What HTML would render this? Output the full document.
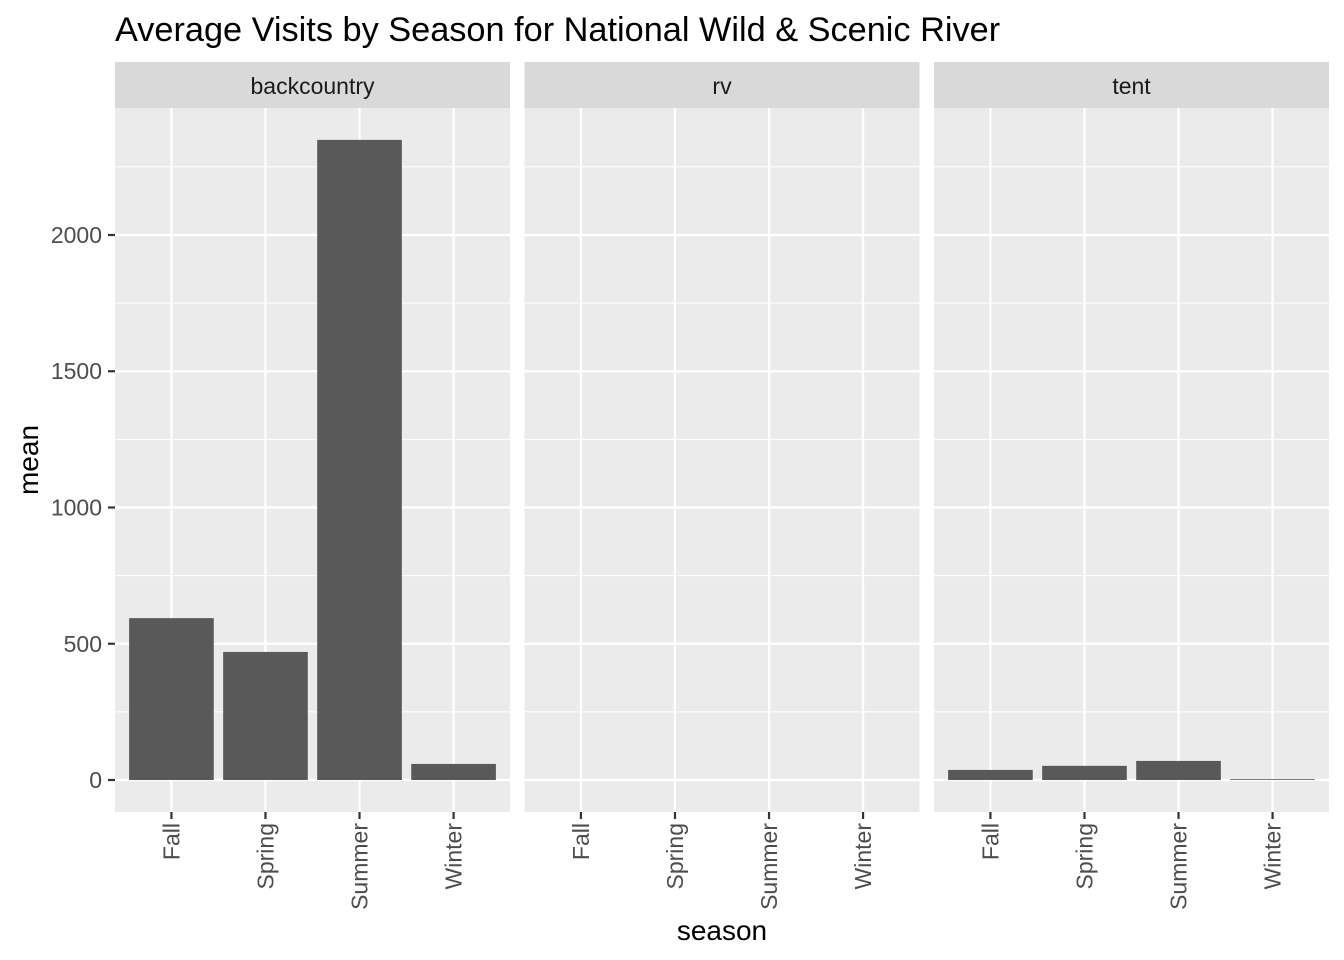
<!DOCTYPE html>
<html><head><meta charset="utf-8"><style>
body{margin:0;background:#fff}
svg{display:block;font-family:"Liberation Sans",Arial,sans-serif}
</style></head><body>
<svg id="c" width="1344" height="960"></svg>
<script>
const panels = ["backcountry","rv","tent"];
const seasons = ["Fall","Spring","Summer","Winter"];
const backcountryValues = [594, 470, 2349, 59];
const rvValues = [0, 0, 0, 0];
const tentValues = [37, 52, 70, 3];
const yTicks = [0, 500, 1000, 1500, 2000];
const yMinor = [250, 750, 1250, 1750, 2250];

const series = [backcountryValues, rvValues, tentValues];
const svg = document.getElementById('c');
const NS = 'http://www.w3.org/2000/svg';
function el(tag, attrs, parent){const e=document.createElementNS(NS,tag);for(const k in attrs)e.setAttribute(k,attrs[k]);(parent||svg).appendChild(e);return e;}
const panelX = [115, 524.5, 934];
const panelW = 395;
const plotTop = 108, plotBottom = 812;
const yMinV = -117.4, yMaxV = 2466;
function y(v){return plotBottom - (v - yMinV)/(yMaxV - yMinV)*(plotBottom-plotTop);}
function x(p, i){const u = panelW/4.2; return panelX[p] + (i+1-0.4)*u;}
const bw = 0.9*panelW/4.2;

let t = el('text',{x:115,y:41,'font-size':34.3,fill:'#000'});


t.textContent='Average Visits by Season for National Wild & Scenic River';

panels.forEach((name,p)=>{
  const g = el('g',{});
  
  
  el('rect',{x:panelX[p],y:plotTop,width:panelW,height:plotBottom-plotTop,fill:'#ebebeb'},g);
  yMinor.forEach(v=>el('line',{x1:panelX[p],x2:panelX[p]+panelW,y1:y(v),y2:y(v),stroke:'#fff','stroke-width':1.1},g));
  yTicks.forEach(v=>el('line',{x1:panelX[p],x2:panelX[p]+panelW,y1:y(v),y2:y(v),stroke:'#fff','stroke-width':2.2},g));
  seasons.forEach((s,i)=>el('line',{x1:x(p,i),x2:x(p,i),y1:plotTop,y2:plotBottom,stroke:'#fff','stroke-width':2.2},g));
  const strip = el('rect',{x:panelX[p],y:62,width:panelW,height:46,fill:'#d9d9d9'},g);
  
  
  const st = el('text',{x:panelX[p]+panelW/2,y:94,'text-anchor':'middle','font-size':23,fill:'#1a1a1a'},g);
  
  
  st.textContent=name;
  series[p].forEach((v,i)=>{
    const y0=y(0), y1=y(v);
    const r = el('rect',{x:x(p,i)-bw/2,y:Math.min(y0,y1),width:bw,height:Math.abs(y0-y1),fill:'#595959'},g);
    
    
  });
  seasons.forEach((s,i)=>{
    el('line',{x1:x(p,i),x2:x(p,i),y1:plotBottom,y2:plotBottom+7,stroke:'#333','stroke-width':2.2},g);
    const lt = el('text',{transform:`translate(${x(p,i)+8},${plotBottom+11}) rotate(-90)`,'text-anchor':'end','font-size':23,fill:'#4d4d4d'},g);
    
    
    lt.textContent=s;
  });
});
yTicks.forEach(v=>{
  el('line',{x1:108,x2:115,y1:y(v),y2:y(v),stroke:'#333','stroke-width':2.2});
  const lt = el('text',{x:102,y:y(v)+8,'text-anchor':'end','font-size':23,fill:'#4d4d4d'});
  
  
  lt.textContent=v;
});
let xt = el('text',{x:722,y:940,'text-anchor':'middle','font-size':28,fill:'#000'});


xt.textContent='season';
let yt = el('text',{transform:'translate(38,460) rotate(-90)','text-anchor':'middle','font-size':28,fill:'#000'});


yt.textContent='mean';
</script>
</body></html>
